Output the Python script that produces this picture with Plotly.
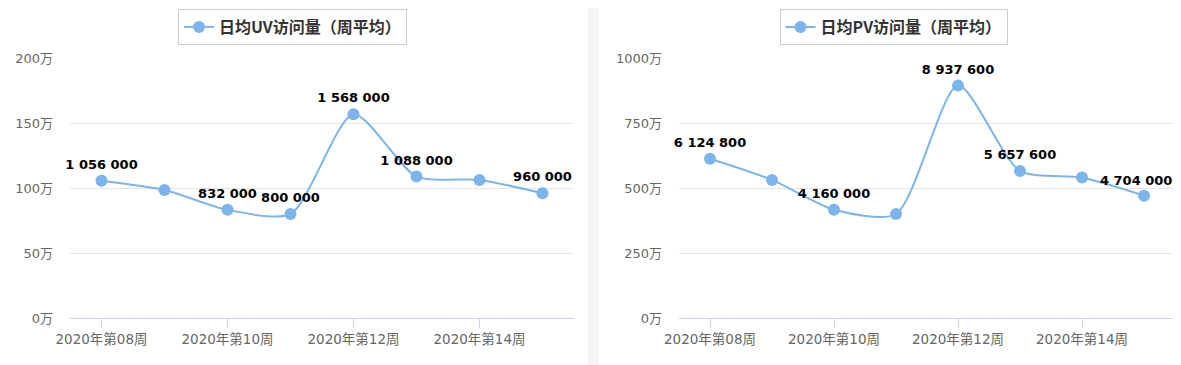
import plotly.graph_objects as go

# The page body has an 8px default margin, so the figure is drawn 8px in
# from the top-left corner of the window; pixel positions below are window
# positions converted to figure positions.
OFF = 8
W, H = 1181 - OFF, 365 - OFF

weeks = ["2020年第08周", "2020年第09周", "2020年第10周", "2020年第11周",
         "2020年第12周", "2020年第13周", "2020年第14周", "2020年第15周"]
uv_values = [1056000, 984000, 832000, 800000, 1568000, 1088000, 1062000, 960000]
pv_values = [6124800, 5312000, 4160000, 4000000, 8937600, 5657600, 5400000, 4704000]
uv_labeled = [True, False, True, True, True, True, False, True]
pv_labeled = [True, False, True, False, True, True, False, True]
tick_weeks = ["2020年第08周", "2020年第10周", "2020年第12周", "2020年第14周"]
uv_ticks = [0, 500000, 1000000, 1500000, 2000000]
pv_ticks = [0, 2500000, 5000000, 7500000, 10000000]
uv_name = "日均UV访问量（周平均）"
pv_name = "日均PV访问量（周平均）"

LINE = "#7cb5ec"
CJK = "Noto Sans CJK SC"
TICKFONT = "DejaVu Sans, Noto Sans CJK SC"
LABELFONT = dict(family="DejaVu Sans", size=13, color="#000000", weight="bold")


def fmt(v):
    return f"{v:,}".replace(",", " ")


def labels(vals, flags, skip_last=False):
    out = [fmt(v) if f else "" for v, f in zip(vals, flags)]
    if skip_last:
        out[-1] = ""
    return out


def px_x(p):
    return (p - OFF) / W


def px_y(p):
    return 1 - (p - OFF) / H


fig = go.Figure()
for vals, flags, name, xa, ya, leg, skip in [
        (uv_values, uv_labeled, uv_name, "x", "y", "legend", False),
        (pv_values, pv_labeled, pv_name, "x2", "y2", "legend2", True)]:
    fig.add_trace(go.Scatter(
        x=weeks, y=vals, name=name, mode="lines+markers+text",
        text=labels(vals, flags, skip), textposition="top center",
        textfont=LABELFONT,
        line=dict(color=LINE, width=2, shape="spline", smoothing=0.7),
        marker=dict(size=12, color=LINE), cliponaxis=False,
        xaxis=xa, yaxis=ya, legend=leg))

# last PV label is pushed inside the chart edge (as the original does)
fig.add_annotation(x=weeks[-1], y=pv_values[-1], xref="x2", yref="y2",
                   text=fmt(pv_values[-1]), showarrow=False, font=LABELFONT,
                   yanchor="bottom", yshift=6, xshift=-8)

xcommon = dict(type="category", tickmode="array", tickvals=tick_weeks, ticktext=tick_weeks,
               range=[-0.5, len(weeks) - 0.5], showgrid=False, showline=True,
               linecolor="#ccd6eb", linewidth=1, ticks="outside", ticklen=9,
               tickcolor="#ccd6eb", tickfont=dict(family=TICKFONT, size=13.5, color="#666666"),
               zeroline=False, fixedrange=True, automargin=False)
ycommon = dict(showgrid=True, gridcolor="#e6e6e6", gridwidth=1, zeroline=False,
               showline=False, tickfont=dict(family=TICKFONT, size=13, color="#666666"),
               ticklabelstandoff=16, fixedrange=True, automargin=False)

legfont = dict(family=CJK, size=16, color="#333333", weight="bold")

fig.update_layout(
    width=W, height=H, margin=dict(l=0, r=0, t=0, b=0, autoexpand=False),
    paper_bgcolor="white", plot_bgcolor="white", showlegend=True,
    xaxis=dict(domain=[px_x(70), px_x(574)], anchor="y", **xcommon),
    xaxis2=dict(domain=[px_x(679), min(1.0, px_x(1175))], anchor="y2", **xcommon),
    yaxis=dict(domain=[px_y(318), px_y(58)], anchor="x", range=[0, 2000000],
               tickvals=uv_ticks, ticktext=[f"{v // 10000}万" for v in uv_ticks], **ycommon),
    yaxis2=dict(domain=[px_y(318), px_y(58)], anchor="x2", range=[0, 10000000],
                tickvals=pv_ticks, ticktext=[f"{v // 10000}万" for v in pv_ticks], **ycommon),
    legend=dict(x=px_x(292.5), y=px_y(9), xanchor="center", yanchor="top",
                bordercolor="#cccccc", borderwidth=1, bgcolor="white", itemwidth=30,
                font=legfont),
    legend2=dict(x=px_x(893.5), y=px_y(9), xanchor="center", yanchor="top",
                 bordercolor="#cccccc", borderwidth=1, bgcolor="white", itemwidth=30,
                 font=legfont),
    shapes=[dict(type="rect", xref="paper", yref="paper", x0=px_x(588), x1=px_x(599),
                 y0=0, y1=1, fillcolor="#f4f4f4", line=dict(width=0), layer="below")],
)

fig.write_html("out.html")
